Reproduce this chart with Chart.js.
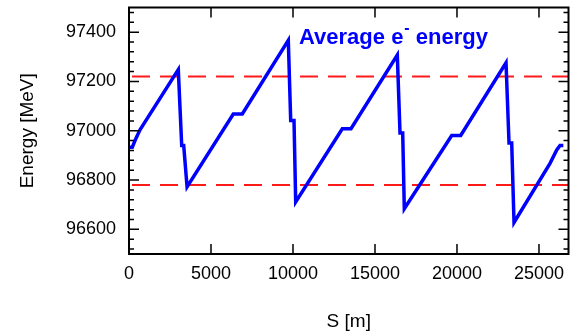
<!DOCTYPE html>
<html>
<head>
<meta charset="utf-8">
<script src="https://cdn.jsdelivr.net/npm/chart.js@4/dist/chart.umd.min.js"></script>
<style>
  html, body { margin: 0; padding: 0; background: #fff; }
  #wrap { width: 571px; height: 334px; position: relative; }
</style>
</head>
<body>
<div id="wrap"><canvas id="c" width="571" height="334"></canvas></div>
<script>
// ---- data ----
const sValues = [0, 200, 430, 670, 3006, 3214, 3336, 3540, 6360, 6909, 9714, 9860, 10062, 10165,
  13007, 13537, 16361, 16526, 16690, 16788, 19678, 20227, 22990, 23173, 23337, 23478,
  25673, 26082, 26283, 26485];
const energyValues = [96933, 96933, 96970, 97004, 97248, 96940, 96940, 96772, 97068, 97068, 97367, 97042, 97042, 96711,
  97008, 97008, 97307, 96991, 96991, 96684, 96981, 96981, 97276, 96950, 96950, 96628,
  96868, 96922, 96940, 96940];
const referenceLevels = [97220, 96780];
const xTickValues = [0, 5000, 10000, 15000, 20000, 25000];
const yTickValues = [96600, 96800, 97000, 97200, 97400];
const xRange = [0, 26800];
const yRange = [96500, 97500];
const seriesLabel = 'Average e';
const seriesLabelSup = '-';
const seriesLabelTail = ' energy';
const xTitle = 'S [m]';
const yTitle = 'Energy [MeV]';

const FONT = "'Liberation Sans', Arial, Helvetica, sans-serif";

const mainData = sValues.map((s, i) => ({ x: s, y: energyValues[i] }));
const refDatasets = referenceLevels.map(v => ({
  data: [{ x: xRange[0], y: v }, { x: xRange[1], y: v }],
  borderColor: '#ff1a1a',
  borderWidth: 2,
  borderDash: [18, 10],
  borderDashOffset: -3,
  pointRadius: 0,
  fill: false
}));

function zeroPad(s) { s.paddingTop = 0; s.paddingBottom = 0; s.paddingLeft = 0; s.paddingRight = 0; }

const framePlugin = {
  id: 'frame',
  afterDatasetsDraw(chart) {
    const { ctx, chartArea: a, scales: { x, y } } = chart;
    ctx.save();
    ctx.strokeStyle = '#000';
    ctx.lineWidth = 1.5;
    for (let v = yRange[0] + 20; v < yRange[1]; v += 40) {
      const isMajor = yTickValues.includes(v);
      const py = y.getPixelForValue(v);
      const len = isMajor ? 10 : 5;
      ctx.beginPath();
      ctx.moveTo(a.left, py); ctx.lineTo(a.left + len, py);
      ctx.moveTo(a.right, py); ctx.lineTo(a.right - len, py);
      ctx.stroke();
    }
    xTickValues.forEach(v => {
      if (v <= xRange[0]) return;
      const px = x.getPixelForValue(v);
      ctx.beginPath();
      ctx.moveTo(px, a.bottom); ctx.lineTo(px, a.bottom - 10);
      ctx.moveTo(px, a.top); ctx.lineTo(px, a.top + 10);
      ctx.stroke();
    });
    ctx.lineWidth = 2;
    ctx.strokeRect(a.left, a.top, a.right - a.left, a.bottom - a.top);
    // series label
    ctx.fillStyle = '#0000ff';
    ctx.textBaseline = 'alphabetic';
    ctx.font = 'bold 22px ' + FONT;
    const tx = 299, ty = 44;
    ctx.fillText(seriesLabel, tx, ty);
    const w1 = ctx.measureText(seriesLabel).width;
    ctx.font = 'bold 16px ' + FONT;
    ctx.fillText(seriesLabelSup, tx + w1 + 1, ty - 11);
    const w2 = ctx.measureText(seriesLabelSup).width;
    ctx.font = 'bold 22px ' + FONT;
    ctx.fillText(seriesLabelTail, tx + w1 + w2 + 1, ty);
    ctx.restore();
  }
};

new Chart(document.getElementById('c'), {
  type: 'line',
  data: {
    datasets: [{
      data: mainData,
      borderColor: '#0000ff',
      borderWidth: 3.5,
      pointRadius: 0,
      tension: 0,
      fill: false
    }, ...refDatasets]
  },
  options: {
    responsive: false,
    animation: false,
    layout: { padding: { left: 0, top: 7.5, right: 2.5, bottom: 0 } },
    plugins: { legend: { display: false }, tooltip: { enabled: false } },
    scales: {
      x: {
        type: 'linear',
        min: xRange[0], max: xRange[1],
        afterFit: s => { s.height = 80; zeroPad(s); },
        afterBuildTicks: s => { s.ticks = xTickValues.map(v => ({ value: v })); },
        grid: { display: false, drawTicks: false },
        border: { display: false },
        ticks: { padding: 9, color: '#000', font: { size: 18, family: FONT }, maxRotation: 0, autoSkip: false, callback: v => String(v) },
        title: { display: true, text: xTitle, color: '#000', font: { size: 19, family: FONT }, padding: { top: 0, bottom: 1 } }
      },
      y: {
        type: 'linear',
        min: yRange[0], max: yRange[1],
        afterFit: s => { s.width = 129; zeroPad(s); },
        afterBuildTicks: s => { s.ticks = yTickValues.map(v => ({ value: v })); },
        grid: { display: false, drawTicks: false },
        border: { display: false },
        ticks: { padding: 13, color: '#000', font: { size: 18, family: FONT }, autoSkip: false, callback: v => String(v) },
        title: { display: true, text: yTitle, color: '#000', font: { size: 19, family: FONT }, padding: { top: 16, bottom: 0 } }
      }
    }
  },
  plugins: [framePlugin]
});
</script>
</body>
</html>
